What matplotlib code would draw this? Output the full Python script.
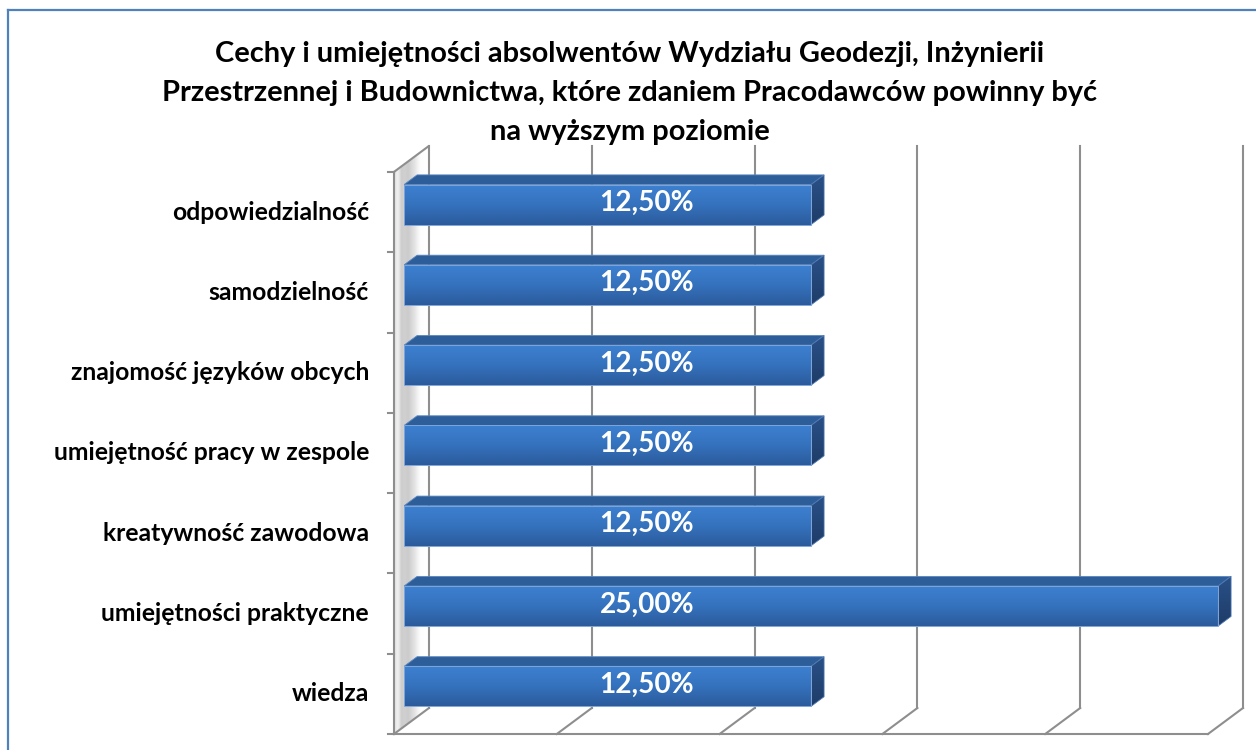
import matplotlib
matplotlib.use("Agg")
import matplotlib.pyplot as plt
import numpy as np
from matplotlib.patches import Polygon, Rectangle
from matplotlib.colors import LinearSegmentedColormap
from matplotlib.lines import Line2D

# ---------------- data ----------------
categories = [
    "odpowiedzialność",
    "samodzielność",
    "znajomość języków obcych",
    "umiejętność pracy w zespole",
    "kreatywność zawodowa",
    "umiejętności praktyczne",
    "wiedza",
]
values = [12.5, 12.5, 12.5, 12.5, 12.5, 25.0, 12.5]
x_ticks = [0, 5, 10, 15, 20, 25]
title_lines = [
    "Cechy i umiejętności absolwentów Wydziału Geodezji, Inżynierii",
    "Przestrzennej i Budownictwa, które zdaniem Pracodawców powinny być",
    "na wyższym poziomie",
]

# ---------------- layout ----------------
W, H = 1256, 750
FONT = "Lato"
fig = plt.figure(figsize=(W / 100, H / 100), dpi=100)
fig.patch.set_facecolor("white")
renderer = fig.canvas.get_renderer()


def fit_size(text, target_px, weight="bold"):
    t = fig.text(0, 0, text, fontsize=20, family=FONT, weight=weight)
    w = t.get_window_extent(renderer).width
    t.remove()
    return 20 * target_px / w


X0PX, PX_PER_PCT = 394, 32.56   # front floor origin, px per percent
Y0PX, PX_PER_CAT = 734, 80.3    # front floor line, px per category
ax = fig.add_axes([0, 0, 1, 1])
ax.axis("off")

DX = 35 / PX_PER_PCT    # depth offset (x) of back wall
DY = 26 / PX_PER_CAT    # depth offset (y) of back wall
D0, D1 = 0.29, 0.66     # bar depth extent (fraction of floor depth)
HH = 0.249              # half bar height (category units)
n = len(categories)
xmax = x_ticks[-1]
grid_col = "#8E8E8E"

# ---- left wall with gradient ----
N = 40
ts = np.linspace(0, 1, N + 1)
prof_t = [0.0, 0.12, 0.22, 0.45, 0.75, 1.0]
prof_v = [0.86, 0.94, 0.80, 0.80, 0.99, 1.0]
for t0, t1 in zip(ts[:-1], ts[1:]):
    g = np.interp((t0 + t1) / 2, prof_t, prof_v)
    ax.add_patch(Polygon([(t0 * DX, t0 * DY), (t1 * DX, t1 * DY),
                          (t1 * DX, n + t1 * DY), (t0 * DX, n + t0 * DY)],
                         closed=True, facecolor=(g, g, g), edgecolor=(g, g, g),
                         lw=0.3, zorder=1))
# wall outline
ax.plot([0, DX], [n, n + DY], color=grid_col, lw=1.5, zorder=2, solid_capstyle="round")
ax.plot([DX, DX], [DY, n + DY], color=grid_col, lw=1.5, zorder=2)

# ---- back-wall gridlines and floor ----
for xt in x_ticks[1:]:
    ax.plot([xt + DX, xt + DX], [DY, n + DY], color=grid_col, lw=1.5, zorder=2)
for xt in x_ticks:
    ax.plot([xt, xt + DX], [0, DY], color=grid_col, lw=1.5, zorder=2)
ax.plot([0, xmax], [0, 0], color=grid_col, lw=1.5, zorder=2)
# front vertical axis + ticks
ax.plot([0, 0], [0, n], color=grid_col, lw=1.5, zorder=2)
tick_len = 6 / PX_PER_PCT
for k in range(n + 1):
    ax.plot([-tick_len, 0], [k, k], color=grid_col, lw=1.5, zorder=2)

# ---- bars ----
front_cmap = LinearSegmentedColormap.from_list("front", ["#2C5B9C", "#3572BD", "#3D80D1"])
side_cmap = LinearSegmentedColormap.from_list("side", ["#1E3C68", "#2A5188"])
grad = np.linspace(0, 1, 64).reshape(-1, 1)
dd = D1 - D0
for i, (cat, v) in enumerate(zip(categories, values)):
    yc = n - 1 - i + 0.5
    x0 = D0 * DX
    x1 = x0 + v
    yb = yc - HH + D0 * DY
    yt = yc + HH + D0 * DY
    # top face
    ax.add_patch(Polygon([(x0, yt), (x1, yt), (x1 + dd * DX, yt + dd * DY),
                          (x0 + dd * DX, yt + dd * DY)], closed=True,
                         facecolor="#2E5E9A", edgecolor="#5A86C0", lw=0.6, zorder=4))
    # side face (gradient, clipped)
    side = Polygon([(x1, yb), (x1 + dd * DX, yb + dd * DY),
                    (x1 + dd * DX, yt + dd * DY), (x1, yt)], closed=True,
                   facecolor="none", edgecolor="#4F78B0", lw=0.6, zorder=5)
    ax.add_patch(side)
    im = ax.imshow(grad, cmap=side_cmap, extent=[x1, x1 + dd * DX, yb, yt + dd * DY],
                   origin="lower", aspect="auto", interpolation="bilinear", zorder=4)
    im.set_clip_path(side)
    # front face gradient
    ax.imshow(grad, cmap=front_cmap, extent=[x0, x1, yb, yt], origin="lower",
              aspect="auto", interpolation="bilinear", zorder=4)
    ax.add_patch(Rectangle((x0, yb), v, yt - yb, facecolor="none",
                           edgecolor="#7FA6DA", lw=0.7, zorder=5))

# ---- data labels ----
lab_size = fit_size("12,50%", 95)
LABEL_X = 7.77
for i, v in enumerate(values):
    yc = n - 1 - i + 0.5 + D0 * DY
    ax.text(LABEL_X, yc + 0.02, f"{v:.2f}%".replace(".", ","), ha="center", va="center",
            color="white", fontsize=lab_size, family=FONT, weight="bold", zorder=6)

# ---- category labels ----
cat_size = fit_size("odpowiedzialność", 197)
for i, cat in enumerate(categories):
    ax.text(-(394 - 369) / PX_PER_PCT, n - 1 - i + 0.5, cat, ha="right", va="center",
            fontsize=cat_size, family=FONT, weight="bold", color="black", zorder=6)

ax.set_xlim(-X0PX / PX_PER_PCT, (W - X0PX) / PX_PER_PCT)
ax.set_ylim(-(H - Y0PX) / PX_PER_CAT, Y0PX / PX_PER_CAT)

# ---- title ----
title_size = fit_size(title_lines[1], 937)
for line, base in zip(title_lines, [62, 101, 140]):
    fig.text(629.5 / W, 1 - base / H, line, ha="center", va="baseline",
             fontsize=title_size, family=FONT, weight="bold", color="black")

# ---- chart border ----
bcol = "#4F81BD"
fig.add_artist(Line2D([8 / W, 8 / W], [0, 1 - 10 / H], color=bcol, lw=1.6))
fig.add_artist(Line2D([8 / W, 1], [1 - 10 / H, 1 - 10 / H], color=bcol, lw=1.6))

fig.savefig("out.png", dpi=100, facecolor="white")
